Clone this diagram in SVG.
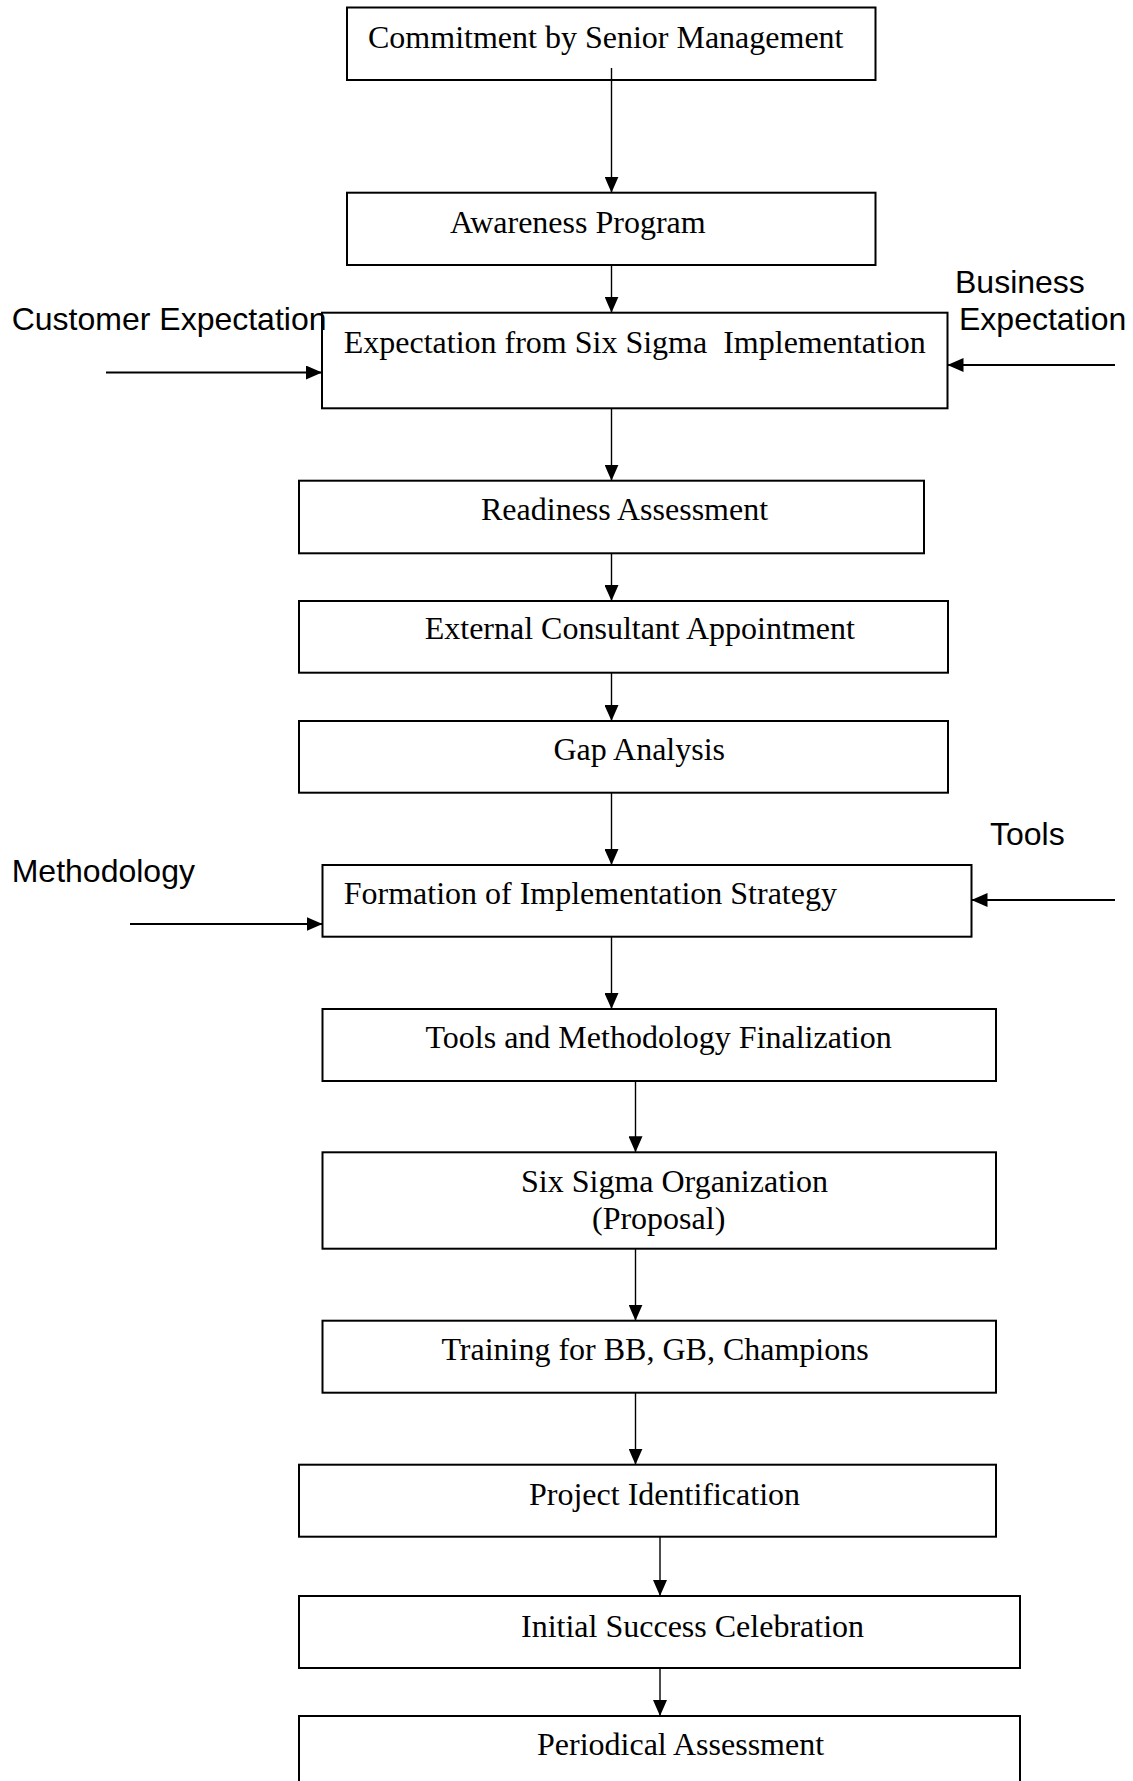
<svg xmlns="http://www.w3.org/2000/svg" width="1133" height="1781" viewBox="0 0 1133 1781">
<defs>
<style>
.box{fill:#fff;stroke:#000;stroke-width:2}
.t{font-family:"Liberation Serif","Times New Roman",serif;font-size:32px;fill:#000;white-space:pre}
.s{font-family:"Liberation Sans",Arial,sans-serif;font-size:32px;fill:#000}
.c{stroke:#000;stroke-width:1.4;fill:none;marker-end:url(#ah)}
.i{stroke:#000;stroke-width:2;fill:none;marker-end:url(#ah)}
</style>
<marker id="ah" markerUnits="userSpaceOnUse" markerWidth="16" markerHeight="14" viewBox="0 0 16 14" refX="16" refY="7" orient="auto">
<path d="M0,0 L16,7 L0,14 z" fill="#000"/>
</marker>
</defs>
<rect width="1133" height="1781" fill="#fff"/>
<g id="connectors">
<line class="c" x1="611.5" y1="68" x2="611.5" y2="192.7"/>
<line class="c" x1="611.5" y1="265" x2="611.5" y2="312.7"/>
<line class="c" x1="611.5" y1="408.3" x2="611.5" y2="480.7"/>
<line class="c" x1="611.5" y1="553.3" x2="611.5" y2="601"/>
<line class="c" x1="611.5" y1="672.7" x2="611.5" y2="721"/>
<line class="c" x1="611.5" y1="792.7" x2="611.5" y2="865"/>
<line class="c" x1="611.5" y1="936.7" x2="611.5" y2="1009"/>
<line class="c" x1="635.5" y1="1081" x2="635.5" y2="1152.3"/>
<line class="c" x1="635.5" y1="1248.7" x2="635.5" y2="1320.7"/>
<line class="c" x1="635.5" y1="1392.7" x2="635.5" y2="1464.7"/>
<line class="c" x1="660" y1="1536.7" x2="660" y2="1596"/>
<line class="c" x1="660" y1="1668" x2="660" y2="1716"/>
<line class="i" x1="106" y1="372.5" x2="322" y2="372.5"/>
<line class="i" x1="1115" y1="365" x2="947.5" y2="365"/>
<line class="i" x1="130" y1="924" x2="322.5" y2="924"/>
<line class="i" x1="1115" y1="900" x2="971.5" y2="900"/>
</g>
<g id="n1"><rect class="box" x="347" y="7.5" width="528.5" height="72.5" fill-opacity="0"/><text class="t" x="368" y="48.3">Commitment by Senior Management</text></g>
<g id="n2"><rect class="box" x="347" y="192.7" width="528.5" height="72.3"/><text class="t" x="450" y="232.7">Awareness Program</text></g>
<g id="n3"><rect class="box" x="322" y="312.7" width="625.5" height="95.6"/><text class="t" x="343.7" y="353.3">Expectation from Six Sigma  Implementation</text></g>
<g id="n4"><rect class="box" x="299" y="480.7" width="625" height="72.6"/><text class="t" x="481" y="520">Readiness Assessment</text></g>
<g id="n5"><rect class="box" x="299" y="601" width="649" height="71.7"/><text class="t" x="424.7" y="639">External Consultant Appointment</text></g>
<g id="n6"><rect class="box" x="299" y="721" width="649" height="71.7"/><text class="t" x="553.5" y="760">Gap Analysis</text></g>
<g id="n7"><rect class="box" x="322.5" y="865" width="649" height="71.7"/><text class="t" x="343.7" y="903.5">Formation of Implementation Strategy</text></g>
<g id="n8"><rect class="box" x="322.5" y="1009" width="673.5" height="72"/><text class="t" x="425.5" y="1048.3">Tools and Methodology Finalization</text></g>
<g id="n9"><rect class="box" x="322.5" y="1152.3" width="673.5" height="96.4"/><text class="t" x="521" y="1191.7">Six Sigma Organization</text><text class="t" x="592" y="1229">(Proposal)</text></g>
<g id="n10"><rect class="box" x="322.5" y="1320.7" width="673.5" height="72"/><text class="t" x="441.4" y="1360">Training for BB, GB, Champions</text></g>
<g id="n11"><rect class="box" x="299" y="1464.7" width="697" height="72"/><text class="t" x="529" y="1505">Project Identification</text></g>
<g id="n12"><rect class="box" x="299" y="1596" width="721" height="72"/><text class="t" x="521" y="1636.5">Initial Success Celebration</text></g>
<g id="n13"><rect class="box" x="299" y="1716" width="721" height="80"/><text class="t" x="537" y="1755">Periodical Assessment</text></g>
<g id="labels">
<text class="s" x="11.7" y="330">Customer Expectation</text>
<text class="s" x="955" y="292.7">Business</text>
<text class="s" x="959" y="330">Expectation</text>
<text class="s" x="11.7" y="881.7">Methodology</text>
<text class="s" x="990" y="845">Tools</text>
</g>
</svg>
